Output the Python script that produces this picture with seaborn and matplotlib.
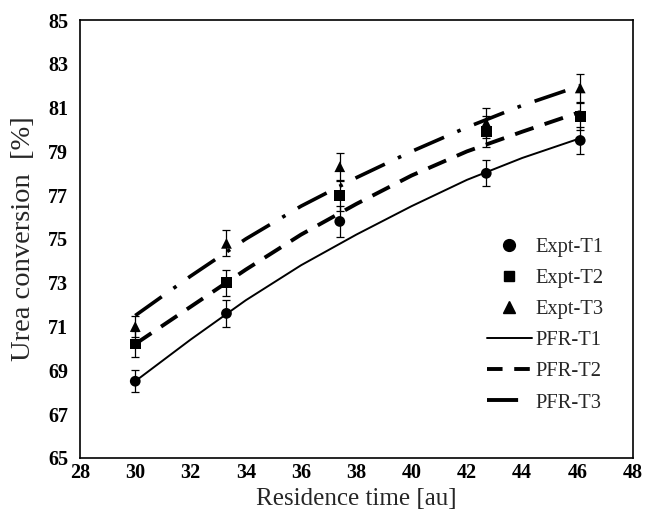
import pandas as pd
import matplotlib.pyplot as plt
import seaborn as sns
from matplotlib.lines import Line2D

# experimental points
t_expt = [30.0, 33.3, 37.4, 42.7, 46.1]
expt_t1 = [68.5, 71.6, 75.8, 78.0, 79.5]
expt_t2 = [70.2, 73.0, 77.0, 79.9, 80.6]
expt_t3 = [71.0, 74.8, 78.3, 80.3, 81.9]
err_t1 = [0.5, 0.6, 0.7, 0.6, 0.6]
err_t2 = [0.6, 0.6, 0.7, 0.7, 0.6]
err_t3 = [0.5, 0.6, 0.65, 0.7, 0.65]

# PFR model curves
t_model = [30, 32, 34, 36, 38, 40, 42, 44, 46.1]
pfr_t1 = [68.5, 70.4, 72.2, 73.8, 75.2, 76.5, 77.7, 78.7, 79.6]
pfr_t2 = [70.2, 71.9, 73.6, 75.2, 76.6, 77.9, 79.0, 79.9, 80.8]
pfr_t3 = [71.5, 73.3, 75.0, 76.5, 77.8, 79.0, 80.1, 81.1, 82.0]

sns.set_style("white")
plt.rcParams["font.family"] = ["Liberation Serif", "DejaVu Serif"]

fig = plt.figure(figsize=(6.45, 5.15), dpi=100)
ax = fig.add_axes([0.124, 0.111, 0.857, 0.850])

expt = pd.DataFrame({
    "t": t_expt * 3,
    "conv": expt_t1 + expt_t2 + expt_t3,
    "err": err_t1 + err_t2 + err_t3,
    "series": ["Expt-T1"] * 5 + ["Expt-T2"] * 5 + ["Expt-T3"] * 5,
})
model = pd.DataFrame({
    "t": t_model * 3,
    "conv": pfr_t1 + pfr_t2 + pfr_t3,
    "series": ["PFR-T1"] * 9 + ["PFR-T2"] * 9 + ["PFR-T3"] * 9,
})

# error bars first, then markers on top
for name, grp in expt.groupby("series"):
    ax.errorbar(grp["t"], grp["conv"], yerr=grp["err"], fmt="none",
                ecolor="black", elinewidth=0.9, capsize=3, capthick=0.9, zorder=2)

sns.scatterplot(data=expt, x="t", y="conv", style="series",
                markers={"Expt-T1": "o", "Expt-T2": "s", "Expt-T3": "^"},
                color="black", s=60, edgecolor="black", linewidth=0,
                ax=ax, zorder=3, legend=False)

styles = {"PFR-T1": (1.4, "-"), "PFR-T2": (2.8, (0, (5, 3))),
          "PFR-T3": (2.6, (0, (9, 4, 1, 4)))}
for name, grp in model.groupby("series"):
    lw, ls = styles[name]
    sns.lineplot(data=grp, x="t", y="conv", color="black", linewidth=lw,
                 linestyle=ls, ax=ax, zorder=2)

# legend: markers for experiments, lines for model
handles = [
    Line2D([], [], marker="o", color="black", linestyle="none", markersize=8.5),
    Line2D([], [], marker="s", color="black", linestyle="none", markersize=7.5),
    Line2D([], [], marker="^", color="black", linestyle="none", markersize=8.5),
    Line2D([], [], color="black", linewidth=1.4, linestyle="-"),
    Line2D([], [], color="black", linewidth=2.8, linestyle=(0, (4, 3))),
    Line2D([], [], color="black", linewidth=2.8, linestyle=(0, (8, 6, 1, 4))),
]
labels = ["Expt-T1", "Expt-T2", "Expt-T3", "PFR-T1", "PFR-T2", "PFR-T3"]
ax.legend(handles, labels, loc="upper left", bbox_to_anchor=(0.736, 0.503),
          frameon=False, fontsize=14.8, handlelength=2.2, labelspacing=0.57,
          handletextpad=0.15, borderpad=0, borderaxespad=0)

ax.set_xlim(28, 48)
ax.set_ylim(65, 85)
ax.set_xticks(range(28, 49, 2))
ax.set_yticks(range(65, 86, 2))
ax.tick_params(direction="in", length=4, width=1, labelsize=14.5, colors="black")
ax.tick_params(axis="x", pad=3.5)
ax.tick_params(axis="y", pad=8.5)
for lab in ax.get_xticklabels() + ax.get_yticklabels():
    lab.set_fontweight("bold")
for sp in ax.spines.values():
    sp.set_color("black")
    sp.set_linewidth(1.2)

ax.set_xlabel("Residence time [au]", fontsize=18, labelpad=4)
ax.set_ylabel("Urea conversion  [%]", fontsize=20.5, labelpad=9)

plt.savefig("out.png", dpi=100)
plt.close()
